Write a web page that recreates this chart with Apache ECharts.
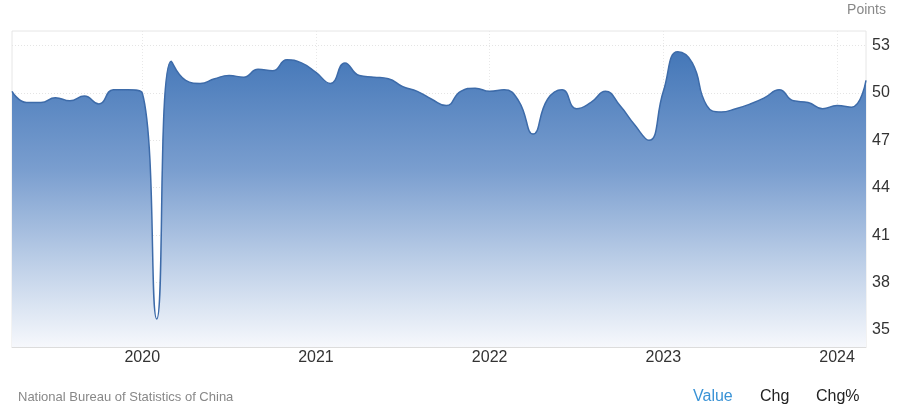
<!DOCTYPE html>
<html><head><meta charset="utf-8">
<script src="https://cdn.jsdelivr.net/npm/echarts@6/dist/echarts.min.js"></script>
<style>html,body{margin:0;padding:0;background:#fff;}#c{width:900px;height:408px;}</style>
</head><body><div id="c"></div>
<script>
const months = [
 '2019-04','2019-05','2019-06','2019-07','2019-08','2019-09','2019-10','2019-11','2019-12',
 '2020-01','2020-02','2020-03','2020-04','2020-05','2020-06','2020-07','2020-08','2020-09','2020-10','2020-11','2020-12',
 '2021-01','2021-02','2021-03','2021-04','2021-05','2021-06','2021-07','2021-08','2021-09','2021-10','2021-11','2021-12',
 '2022-01','2022-02','2022-03','2022-04','2022-05','2022-06','2022-07','2022-08','2022-09','2022-10','2022-11','2022-12',
 '2023-01','2023-02','2023-03','2023-04','2023-05','2023-06','2023-07','2023-08','2023-09','2023-10','2023-11','2023-12',
 '2024-01','2024-02','2024-03'];
const pmi = [
 50.1,49.4,49.4,49.7,49.5,49.8,49.3,50.2,50.2,
 50.0,35.7,52.0,50.8,50.6,50.9,51.1,51.0,51.5,51.4,52.1,51.9,
 51.3,50.6,51.9,51.1,51.0,50.9,50.4,50.1,49.6,49.2,50.1,50.3,
 50.1,50.2,49.5,47.4,49.6,50.2,49.0,49.4,50.1,49.2,48.0,47.0,
 50.1,52.6,51.9,49.2,48.8,49.0,49.3,49.7,50.2,49.5,49.4,49.0,
 49.2,49.1,50.8];
const yTicks = [35,38,41,44,47,50,53];
const yearTicks = ['2020-01','2021-01','2022-01','2023-01','2024-01'];
const FONT = 'Arial, "Liberation Sans", sans-serif';

const chart = echarts.init(document.getElementById('c'), null, {renderer:'canvas'});
chart.setOption({
  animation:false,
  grid:{left:12,right:34,top:31,bottom:61,show:true,borderColor:'#e6e6e6',borderWidth:1},
  xAxis:{
    type:'category', data:months, boundaryGap:false,
    axisLine:{show:true,lineStyle:{color:'#dcdcdc'}},
    axisTick:{show:false},
    axisLabel:{
      interval:(i,v)=>yearTicks.includes(v),
      formatter:v=>v.slice(0,4),
      color:'#333', fontSize:16, fontFamily:'Arial, Liberation Sans, sans-serif', margin:3
    },
    splitLine:{show:true,interval:(i,v)=>yearTicks.includes(v),lineStyle:{color:'#e8e8e8',type:[1,2]}}
  },
  yAxis:{
    type:'value', position:'right', min:33.92, max:53.92, scale:true,
    axisLine:{show:false},
    axisTick:{show:false, customValues:yTicks},
    axisLabel:{customValues:yTicks, color:'#333', fontSize:16, fontFamily:'Arial, Liberation Sans, sans-serif', margin:6, padding:[3,0,0,0]},
    splitLine:{show:true,lineStyle:{color:'#e4e4e4',type:[1,2]}},
    name:'Points', nameLocation:'end',
    nameTextStyle:{color:'#888',fontSize:14,fontFamily:'Arial, Liberation Sans, sans-serif',align:'right',padding:[0,-20,0,0]},
    nameGap:14
  },
  series:[{
    type:'line', data:pmi, smooth:0.5, symbol:'none',
    lineStyle:{color:'#3d6ba9',width:1.5},
    areaStyle:{opacity:1,color:new echarts.graphic.LinearGradient(0,0,0,1,[
      {offset:0,color:'#4477b8'},{offset:0.4,color:'#7a9ecf'},{offset:0.75,color:'#c4d4ea'},{offset:1,color:'#f6f8fc'}])}
  }],
  graphic:[
    {type:'text',left:18,top:391,style:{text:'National Bureau of Statistics of China',fill:'#888',font:'13px '+FONT}},
    {type:'text',left:693,top:389,style:{text:'Value',fill:'#3a93d6',font:'16px '+FONT}},
    {type:'text',left:760,top:389,style:{text:'Chg',fill:'#222',font:'16px '+FONT}},
    {type:'text',left:816,top:389,style:{text:'Chg%',fill:'#222',font:'16px '+FONT}}
  ]
});
</script></body></html>
